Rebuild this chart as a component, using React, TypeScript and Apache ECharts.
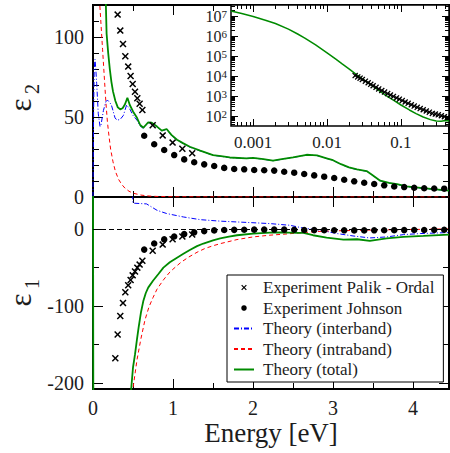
import React, { useEffect, useRef } from 'react';
import * as echarts from 'echarts';

const FONT = 'Liberation Serif';
const INK = '#1c1c1c';
const GREEN = '#008b00';
const RED = '#ff0000';
const BLUE = '#0000ff';
const CROSS = 'path://M0,1.5L1.5,0L5,3.5L8.5,0L10,1.5L6.5,5L10,8.5L8.5,10L5,6.5L1.5,10L0,8.5L3.5,5Z';

// ---------- tick labels ----------
const mainXMajor = [0, 1, 2, 3, 4];
const mainXMinor = [0.5, 1.5, 2.5, 3.5];
const topYMajor = [0, 50, 100];
const topYMinor = [10, 20, 30, 40, 60, 70, 80, 90, 110];
const botYMajor = [-200, -100, 0];
const botYMinor = [-150, -50];
const insetXMajor = [0.001, 0.01, 0.1];
const insetXMajorLabels = ['0.001', '0.01', '0.1'];
const insetXMinor = [0.0006, 0.0007, 0.0008, 0.0009, 0.002, 0.003, 0.004, 0.005, 0.006, 0.007, 0.008, 0.009,
  0.02, 0.03, 0.04, 0.05, 0.06, 0.07, 0.08, 0.09, 0.2, 0.3, 0.4];
const insetYMajorExp = [2, 3, 4, 5, 6, 7];
const insetYMinor = [40, 50, 60, 70, 80, 90, 200, 300, 400, 500, 600, 700, 800, 900,
  2e3, 3e3, 4e3, 5e3, 6e3, 7e3, 8e3, 9e3, 2e4, 3e4, 4e4, 5e4, 6e4, 7e4, 8e4, 9e4,
  2e5, 3e5, 4e5, 5e5, 6e5, 7e5, 8e5, 9e5, 2e6, 3e6, 4e6, 5e6, 6e6, 7e6, 8e6, 9e6, 2e7, 3e7];
const axisTitleX = 'Energy [eV]';
const axisTitleTop = ['ε', '2'];
const axisTitleBottom = ['ε', '1'];

// ---------- experiment: Palik - Ordal ----------
const palikEnergy = [0.279, 0.308, 0.341, 0.375, 0.404, 0.44, 0.47, 0.496, 0.525, 0.554, 0.583, 0.617, 0.746, 0.871, 0.995, 1.117, 1.24];
const palikEps2 = [null, 114, 104, 95.6, 88, 81.5, 75.6, 70.6, 65.8, 61.7, 58.3, 54.4, 44.8, 38.5, 34, 30.2, 27.3];
const palikEps1 = [-168, -137, -113, -96, -82, -73, -66, -60, -55, -50, -46, -41, -28, -20, -13, -9.5, -6.8];

// ---------- experiment: Johnson ----------
const johnsonEnergy = [0.64, 0.765, 0.89, 1.015, 1.14, 1.265, 1.39, 1.515, 1.64, 1.765, 1.89, 2.015, 2.14, 2.265, 2.39, 2.515,
  2.64, 2.765, 2.89, 3.015, 3.14, 3.265, 3.39, 3.515, 3.64, 3.765, 3.89, 4.015, 4.14, 4.265, 4.39];
const johnsonEps2 = [38.3, 33, 29.4, 26.2, 23.5, 21.7, 20.4, 19.4, 18.2, 17.5, 17.3, 16.9, 16.7, 16.5, 15.8, 15.2,
  14.4, 13.5, 12.7, 11.9, 10.8, 9.8, 8.9, 8.1, 7.3, 6.6, 6.2, 5.8, 5.5, 5.3, 5.2];
const johnsonEps1 = [-26.5, -18.6, -13.2, -9.5, -6.3, -4.0, -2.4, -1.5, -1.0, -0.8, -0.6, -0.5, -0.4, -0.4, -0.5, -0.7,
  -0.9, -1.1, -1.2, -1.3, -1.4, -1.5, -1.5, -1.4, -1.3, -1.2, -1.1, -1.0, -0.9, -0.8, -0.7];

// ---------- theory: total, eps2 ----------
const totalEps2E = [0.12, 0.14, 0.16, 0.17, 0.19, 0.21, 0.23, 0.25, 0.28, 0.31, 0.34, 0.37, 0.40, 0.43, 0.46, 0.50, 0.55, 0.59,
  0.63, 0.66, 0.69, 0.73, 0.80, 0.86, 0.92, 0.98, 1.05, 1.13, 1.21, 1.34, 1.50, 1.60, 1.71, 1.92, 2.00, 2.13, 2.25, 2.34, 2.50,
  2.67, 2.75, 2.80, 2.92, 3.00, 3.10, 3.20, 3.30, 3.42, 3.50, 3.59, 3.70, 3.80, 3.92, 4.00, 4.13, 4.25, 4.45];
const totalEps2 = [250, 160, 122, 102, 90, 80, 72, 66, 60, 56, 54.8, 55.5, 58, 62, 57.5, 53.5, 49.5, 45,
  43.3, 45, 46.7, 46.5, 44, 41.5, 42.5, 38.8, 35.8, 33.5, 31.4, 29, 26.2, 25.5, 24.7, 24.2, 24.5, 23.7, 22.7, 23.5, 24.8,
  26.4, 26.2, 26, 24.2, 23, 20.5, 18.5, 17.2, 16.2, 13.5, 10.2, 8.8, 8.0, 6.6, 6.2, 5.5, 4.9, 4.0];

// ---------- theory: interband, eps2 ----------
const interEps2E = [0, 0.008, 0.015, 0.025, 0.035, 0.046, 0.066, 0.088, 0.1, 0.13, 0.16, 0.18, 0.21, 0.23, 0.275, 0.3, 0.34,
  0.38, 0.42, 0.46, 0.5, 0.55, 0.59, 0.63, 0.66, 0.69, 0.73, 0.80, 0.86, 0.92, 0.98, 1.05, 1.13, 1.21, 1.34, 1.50, 1.60, 1.71,
  1.92, 2.00, 2.13, 2.25, 2.34, 2.50, 2.67, 2.75, 2.80, 2.92, 3.00, 3.10, 3.20, 3.30, 3.42, 3.50, 3.59, 3.70, 3.80, 3.92, 4.00,
  4.13, 4.25, 4.45];
const interEps2 = [0, 55, 80, 86, 80, 71, 52, 44, 45, 54, 59.5, 60.6, 59, 57.5, 49.5, 48, 48.5,
  51, 57.5, 55, 51, 48, 44.3, 43, 44.7, 46.4, 46.3, 43.8, 41.3, 42.3, 38.6, 35.6, 33.3, 31.2, 28.8, 26.1, 25.4, 24.6,
  24.1, 24.4, 23.6, 22.6, 23.4, 24.7, 26.3, 26.1, 25.9, 24.1, 22.9, 20.4, 18.4, 17.1, 16.1, 13.4, 10.1, 8.7, 7.9, 6.5, 6.1,
  5.4, 4.8, 3.9];

// ---------- theory: intraband, eps2 ----------
const intraEps2E = [0.07, 0.085, 0.1, 0.12, 0.14, 0.16, 0.18, 0.2, 0.22, 0.25, 0.28, 0.32, 0.36, 0.4, 0.45, 0.5, 0.6, 0.7, 0.8, 1.0, 1.5, 2.5, 4.45];
const intraEps2 = [150, 120, 108, 92, 76, 60, 47, 38, 30, 22, 16, 11, 7.8, 5.5, 3.6, 2.4, 1.2, 0.6, 0.35, 0.15, 0.05, 0.01, 0.003];

// ---------- theory, eps1 ----------
const totalEps1E = [0, 0.005, 0.45, 0.48, 0.5, 0.525, 0.55, 0.57, 0.6, 0.63, 0.66, 0.69, 0.75, 0.82, 0.88, 0.96, 1.05, 1.13, 1.21,
  1.3, 1.38, 1.5, 1.59, 1.7, 1.8, 2.0, 2.21, 2.34, 2.55, 2.63, 2.75, 2.92, 3.13, 3.3, 3.46, 3.67, 3.88, 4.13, 4.45];
const totalEps1 = [60, -300, -240, -205, -180, -163, -143, -128, -108, -93, -83, -76, -67, -58, -50, -43, -37, -32, -27,
  -22, -18.6, -14.5, -12, -9.5, -7.8, -5.6, -4.3, -4.1, -4.6, -4.8, -7.8, -10.8, -13.4, -13, -15.2, -12, -10, -8.7, -6.9];
const intraEps1E = [0.45, 0.5, 0.55, 0.6, 0.65, 0.7, 0.75, 0.8, 0.88, 0.95, 1.0, 1.1, 1.2, 1.3, 1.4, 1.5, 1.6, 1.8, 2.0, 2.2,
  2.4, 2.6, 2.8, 3.0, 3.5, 4.0, 4.45];
const intraEps1 = [-260, -207, -170, -142, -118, -101, -89, -78, -66, -57, -52, -43, -36, -30, -25, -21.5, -18.5, -13.4, -10, -7.8,
  -6.3, -4.6, -2.9, -2.2, -0.9, -0.3, 0.5];
const interEps1E = [0.3, 0.48, 0.5, 0.67, 0.8, 0.92, 1.13, 1.34, 1.6, 1.8, 2.0, 2.21, 2.46, 2.63, 2.84, 3.05, 3.25, 3.46, 3.67, 3.88, 4.09, 4.45];
const interEps1 = [90, 70, 34, 33, 24.7, 20.5, 16, 12.5, 10.5, 9.5, 8.5, 7.4, 5.2, 1.5, -1.3, -5.6, -8.7, -11.3, -10, -7, -5.6, -4.3];

// ---------- inset (log-log) ----------
const insetTheoryE = [0.0005, 0.0007, 0.001, 0.0015, 0.002, 0.003, 0.004, 0.005, 0.007, 0.01, 0.013, 0.016, 0.02, 0.025, 0.03,
  0.04, 0.05, 0.063, 0.08, 0.1, 0.13, 0.16, 0.2, 0.25, 0.3, 0.35, 0.4, 0.45];
const insetTheoryEps2 = [1.78e7, 1.32e7, 9.5e6, 6.0e6, 4.2e6, 2.2e6, 1.26e6, 7.9e5, 3.6e5, 1.45e5, 7.1e4, 4.0e4, 2.2e4, 1.17e4, 7200,
  3500, 1900, 1050, 600, 355, 200, 132, 89, 66, 56, 55, 59, 57];
const insetPalikE = [0.024, 0.026, 0.028, 0.030, 0.033, 0.036, 0.039, 0.042, 0.046, 0.050, 0.055, 0.060, 0.066, 0.072, 0.079,
  0.087, 0.095, 0.104, 0.114, 0.125, 0.138, 0.151, 0.166, 0.182, 0.200, 0.220, 0.242, 0.266, 0.292, 0.320, 0.352, 0.387, 0.425];
const insetPalikEps2 = [10500, 9000, 7800, 6700, 5500, 4600, 3850, 3250, 2700, 2250, 1880, 1580, 1320, 1120, 950,
  800, 690, 590, 500, 430, 365, 315, 270, 235, 205, 178, 155, 135, 125, 114, 103, 93, 84];

const LEGEND_NAMES = ['Experiment Palik - Ordal', 'Experiment Johnson', 'Theory (interband)', 'Theory (intraband)', 'Theory (total)'];

const zip = (xs: number[], ys: (number | null)[]) =>
  xs.map((x, i) => [x, ys[i]]).filter((p) => p[1] !== null);
const zipLog = (xs: number[], ys: number[]) => xs.map((x, i) => [Math.log10(x), Math.log10(ys[i])]);

function axisPair(
  dim: 'x' | 'y', gridIndex: number, position: string, min: number, max: number,
  major: number[], minor: number[], majLen: number, minLen: number, z: number,
  label?: any, extra?: any,
) {
  const make = (vals: number[], len: number, lbl: any) => ({
    type: 'value', gridIndex, position, min, max, z,
    axisLine: { show: false, onZero: false },
    splitLine: { show: false },
    axisTick: { show: true, inside: true, length: len, customValues: vals, lineStyle: { color: '#000', width: 1 } },
    axisLabel: lbl ? { show: true, customValues: vals, ...lbl } : { show: false },
  });
  const a: any = make(major, majLen, label);
  if (extra) Object.assign(a, extra);
  return [a, make(minor, minLen, null)];
}

const mainLabel = { margin: 9, fontSize: 20, fontFamily: FONT, color: INK, formatter: (v: number) => String(v) };

// rotated y-axis title: big epsilon with a subscript
function epsTitle(parts: string[], cy: number) {
  const rot = Math.PI / 2;
  return [
    {
      type: 'text', x: 20, y: cy + 8, rotation: rot, silent: true,
      style: { text: parts[0], fontSize: 31, fontFamily: FONT, fill: INK, align: 'center', verticalAlign: 'middle' },
    },
    {
      type: 'text', x: 32, y: cy - 8, rotation: rot, silent: true,
      style: { text: parts[1], fontSize: 20, fontFamily: FONT, fill: INK, align: 'center', verticalAlign: 'middle' },
    },
  ];
}

function buildOption() {
  const lg = (v: number[]) => v.map((x) => Math.log10(x));
  const xAxes: any[] = [
    ...axisPair('x', 0, 'bottom', 0, 4.45, mainXMajor, mainXMinor, 10, 6, 1),
    ...axisPair('x', 0, 'top', 0, 4.45, mainXMajor, mainXMinor, 10, 6, 1),
    ...axisPair('x', 1, 'bottom', 0, 4.45, mainXMajor, mainXMinor, 10, 6, 1, mainLabel, {
      name: axisTitleX, nameLocation: 'middle', nameGap: 30, nameMoveOverlap: false,
      nameTextStyle: { fontSize: 27, fontFamily: FONT, color: INK },
    }),
    ...axisPair('x', 1, 'top', 0, 4.45, mainXMajor, mainXMinor, 10, 6, 1),
    ...axisPair('x', 2, 'bottom', -3.3, -0.35, lg(insetXMajor), lg(insetXMinor), 7, 4, 7, {
      margin: 8, fontSize: 17, fontFamily: FONT, color: INK,
      formatter: (v: number) => insetXMajorLabels[Math.round(v) + 3] ?? '',
    }),
    ...axisPair('x', 2, 'top', -3.3, -0.35, lg(insetXMajor), lg(insetXMinor), 7, 4, 7),
  ];
  const yAxes: any[] = [
    ...axisPair('y', 0, 'left', 0, 120, topYMajor, topYMinor, 10, 6, 1, mainLabel),
    ...axisPair('y', 0, 'right', 0, 120, topYMajor, topYMinor, 10, 6, 1),
    ...axisPair('y', 1, 'left', -208, 42, botYMajor, botYMinor, 10, 6, 1, mainLabel),
    ...axisPair('y', 1, 'right', -208, 42, botYMajor, botYMinor, 10, 6, 1),
    ...axisPair('y', 2, 'left', 1.5, 7.55, insetYMajorExp, lg(insetYMinor), 7, 4, 7, {
      margin: 4,
      fontFamily: FONT,
      formatter: (v: number) => `{b|10}{s|${Math.round(v)}}`,
      rich: {
        b: { fontSize: 16, fontFamily: FONT, color: INK, lineHeight: 16, verticalAlign: 'bottom' },
        s: { fontSize: 11, fontFamily: FONT, color: INK, lineHeight: 11, verticalAlign: 'top', padding: [0, 0, 8, 0] },
      },
    }),
    ...axisPair('y', 2, 'right', 1.5, 7.55, insetYMajorExp, lg(insetYMinor), 7, 4, 7),
  ];

  const line = (name: string, data: any[], color: string, width: number, type: any, xi: number, z = 2, extra: any = {}) => ({
    type: 'line', name, data, xAxisIndex: xi, yAxisIndex: xi, z,
    symbol: 'none', showSymbol: false, clip: true, smooth: false,
    lineStyle: { color, width, type }, itemStyle: { color },
    ...extra,
  });
  const scatter = (name: string, data: any[], symbol: string, size: number, xi: number, z = 3) => ({
    type: 'scatter', name, data, xAxisIndex: xi, yAxisIndex: xi, z, symbol, symbolSize: size, clip: true,
    itemStyle: { color: '#000', opacity: 1 },
  });

  const series: any[] = [
    line(LEGEND_NAMES[3], zip(intraEps2E, intraEps2), RED, 1, [4, 3], 0),
    line(LEGEND_NAMES[2], zip(interEps2E, interEps2), BLUE, 1, [5, 2, 1, 2], 0),
    line(LEGEND_NAMES[4], zip(totalEps2E, totalEps2), GREEN, 1.8, 'solid', 0),
    scatter(LEGEND_NAMES[0], zip(palikEnergy, palikEps2), CROSS, 7, 0),
    scatter(LEGEND_NAMES[1], zip(johnsonEnergy, johnsonEps2), 'circle', 6.5, 0),
    line(LEGEND_NAMES[3], zip(intraEps1E, intraEps1), RED, 1, [4, 3], 4),
    line(LEGEND_NAMES[2], zip(interEps1E, interEps1), BLUE, 1, [5, 2, 1, 2], 4),
    line(LEGEND_NAMES[4], zip(totalEps1E, totalEps1), GREEN, 1.8, 'solid', 4, 2, {
      markLine: {
        silent: true, symbol: 'none', label: { show: false }, animation: false,
        lineStyle: { color: '#000', type: [5, 3], width: 1 },
        data: [{ yAxis: 0 }],
      },
    }),
    scatter(LEGEND_NAMES[0], zip(palikEnergy, palikEps1), CROSS, 7, 4),
    scatter(LEGEND_NAMES[1], zip(johnsonEnergy, johnsonEps1), 'circle', 6.5, 4),
    line('inset total', zipLog(insetTheoryE, insetTheoryEps2), GREEN, 1.5, 'solid', 8, 8),
    scatter('inset palik', zipLog(insetPalikE, insetPalikEps2), CROSS, 6, 8, 9),
  ];

  const hiddenSymbol = { opacity: 0, color: 'rgba(0,0,0,0)', borderWidth: 0 };
  const gridBase = { show: true, borderColor: '#000', containLabel: false, outerBoundsMode: 'none' };

  return {
    animation: false,
    backgroundColor: '#fff',
    textStyle: { fontFamily: FONT },
    grid: [
      { ...gridBase, left: 93, top: 5, width: 356, height: 192, borderWidth: 2, backgroundColor: 'transparent', z: 0 },
      { ...gridBase, left: 93, top: 197, width: 356, height: 192, borderWidth: 2, backgroundColor: 'transparent', z: 0 },
      { ...gridBase, left: 231, top: 5, width: 218, height: 121, borderWidth: 1.5, backgroundColor: '#fff', z: 6 },
    ],
    xAxis: xAxes,
    yAxis: yAxes,
    graphic: [...epsTitle(axisTitleTop, 97), ...epsTitle(axisTitleBottom, 292)],
    legend: {
      data: [
        { name: LEGEND_NAMES[0] },
        { name: LEGEND_NAMES[1] },
        { name: LEGEND_NAMES[2], itemStyle: hiddenSymbol },
        { name: LEGEND_NAMES[3], itemStyle: hiddenSymbol },
        { name: LEGEND_NAMES[4], itemStyle: hiddenSymbol },
      ],
      orient: 'vertical',
      left: 227, top: 275,
      itemWidth: 20, itemHeight: 5.5, itemGap: 3.5,
      padding: [4, 9, 4, 6],
      borderColor: '#000', borderWidth: 1, backgroundColor: '#fff',
      selectedMode: false,
      z: 10,
      textStyle: { fontFamily: FONT, fontSize: 17, color: INK, lineHeight: 17, padding: [0, 0, 0, 4] },
    },
    series,
  };
}

export default function App() {
  const ref = useRef<HTMLDivElement>(null);
  useEffect(() => {
    if (!ref.current) return;
    const chart = echarts.init(ref.current, undefined, { renderer: 'svg' });
    chart.setOption(buildOption() as any);
    return () => chart.dispose();
  }, []);
  return (
    <div
      ref={ref}
      style={{ position: 'absolute', left: 0, top: 0, width: 450, height: 453, background: '#fff' }}
    />
  );
}
